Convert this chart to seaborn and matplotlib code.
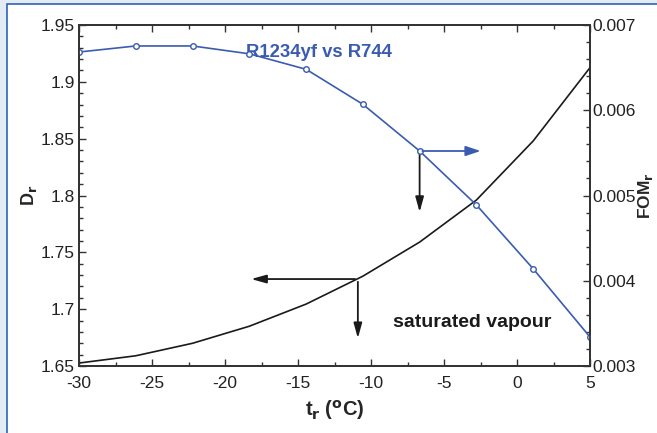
import matplotlib
matplotlib.use("Agg")
import matplotlib.pyplot as plt
import matplotlib.patches as patches
import numpy as np
import pandas as pd
import seaborn as sb
from matplotlib.ticker import MultipleLocator

# data
t_r = [-30, -26.11, -22.22, -18.33, -14.44, -10.56, -6.67, -2.78, 1.11, 5]
D_r = [1.6526, 1.6590, 1.6700, 1.6850, 1.7045, 1.7290, 1.7590, 1.7960, 1.8480, 1.9125]
FOM_r = [0.006683, 0.006754, 0.006754, 0.006662, 0.006480, 0.006070, 0.005522, 0.004889, 0.004140, 0.003340]

df = pd.DataFrame({'t': t_r, 'D': D_r, 'FOM': FOM_r})

blue = '#3a5cb0'
black = '#1a1a1a'

sb.set_style("white")
plt.rcParams["font.family"] = ["Liberation Sans", "DejaVu Sans"]
plt.rcParams["axes.unicode_minus"] = False

fig = plt.figure(figsize=(6.57, 4.33), dpi=100)
fig.patch.set_facecolor('#e3ebf5')
panel = patches.Rectangle((7/657, -0.01), 1.0, 1 - 4/433 + 0.01, transform=fig.transFigure,
                          facecolor='white', edgecolor='#2f63b8', linewidth=1.2, zorder=-10)
fig.add_artist(panel)

ax = fig.add_axes([79/657, 67/433, 511/657, 341/433])
ax2 = ax.twinx()
ax.set_zorder(1)
ax2.set_zorder(2)
ax.patch.set_alpha(0)
ax2.patch.set_alpha(0)

sb.lineplot(data=df, x='t', y='D', ax=ax, color=black, linewidth=1.2)
sb.lineplot(data=df, x='t', y='FOM', ax=ax2, color=blue, linewidth=1.2, marker='o',
            markersize=4, markerfacecolor='white', markeredgecolor=blue, markeredgewidth=1)

ax.set_xlim(-30, 5)
ax.set_ylim(1.65, 1.95)
ax2.set_ylim(0.003, 0.007)

ax.xaxis.set_major_locator(MultipleLocator(5))
ax.xaxis.set_minor_locator(MultipleLocator(2.5))
ax.yaxis.set_minor_locator(MultipleLocator(0.01))
ax2.yaxis.set_minor_locator(MultipleLocator(0.0002))
ax.set_yticks([1.65, 1.7, 1.75, 1.8, 1.85, 1.9, 1.95])
ax.set_yticklabels(['1.65', '1.7', '1.75', '1.8', '1.85', '1.9', '1.95'])
ax2.set_yticks([0.003, 0.004, 0.005, 0.006, 0.007])
ax2.set_yticklabels(['0.003', '0.004', '0.005', '0.006', '0.007'])

for a in (ax, ax2):
    a.tick_params(which='both', direction='in', colors='#333333', labelcolor='#222222', labelsize=12.5)
    a.tick_params(which='major', length=5, width=1)
    a.tick_params(which='minor', length=3, width=1)
    for s in a.spines.values():
        s.set_color('#333333')
        s.set_linewidth(1.3)
ax.tick_params(axis='x', which='both', top=True, bottom=True, pad=7)
ax.tick_params(axis='y', which='both', left=True, right=False, pad=3)
ax2.tick_params(axis='y', which='both', left=False, right=True, pad=2)

ax.set_xlabel('t$_\\mathbf{r}$ ($^\\mathbf{o}$C)', fontsize=14.5, fontweight='bold', labelpad=5)
ax.set_ylabel('D$_\\mathbf{r}$', fontsize=13, fontweight='bold', labelpad=1)
ax2.set_ylabel('FOM$_\\mathbf{r}$', fontsize=12.5, fontweight='bold', labelpad=0)

# arrows showing which axis each curve belongs to
ax2.annotate('', xy=(-2.3, 0.005522), xytext=(-6.67, 0.005522),
             arrowprops=dict(arrowstyle='-|>,head_length=0.9,head_width=0.3', color=blue, lw=1.3))
ax.annotate('', xy=(-6.67, 1.783), xytext=(-6.67, 1.8415),
            arrowprops=dict(arrowstyle='-|>,head_length=0.9,head_width=0.25', color=black, lw=1.3))
ax.annotate('', xy=(-18.4, 1.7265), xytext=(-10.9, 1.7265),
            arrowprops=dict(arrowstyle='-|>,head_length=0.9,head_width=0.25', color=black, lw=1.3))
ax.annotate('', xy=(-10.9, 1.672), xytext=(-10.9, 1.7265),
            arrowprops=dict(arrowstyle='-|>,head_length=0.9,head_width=0.25', color=black, lw=1.3))

ax.text(-13.6, 1.926, 'R1234yf vs R744', color=blue, fontsize=13.3, fontweight='bold',
        ha='center', va='center')
ax.text(-3.1, 1.688, 'saturated vapour', color=black, fontsize=14, fontweight='bold',
        ha='center', va='center')

plt.savefig('out.png', dpi=100, facecolor=fig.get_facecolor())
